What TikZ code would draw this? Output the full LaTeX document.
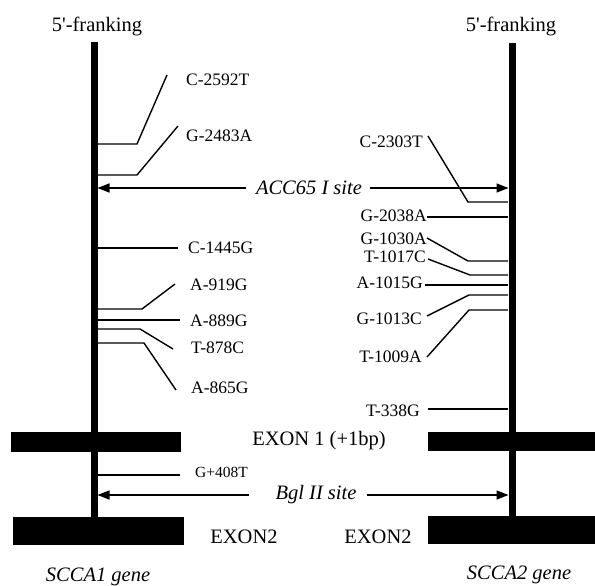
\documentclass[tikz,border=0pt]{standalone}
\usepackage{fontspec}
\setmainfont{Liberation Serif}
\usetikzlibrary{arrows.meta}
\begin{document}
\begin{tikzpicture}[x=1pt,y=-1pt,
  genebar/.style={line width=7pt},
  exonbox/.style={fill=black},
  lead/.style={line width=1.4pt},
  mut/.style={inner sep=0pt, font=\fontsize{17.5}{20}\selectfont},
  smallmut/.style={inner sep=0pt, font=\fontsize{15.5}{18}\selectfont},
  big/.style={inner sep=0pt, font=\fontsize{20.5}{24}\selectfont},
  bigit/.style={inner sep=0pt, font=\fontsize{20.5}{24}\selectfont\itshape},
  site/.style={line width=1.4pt, -{Triangle[length=12pt,width=9pt]}},
]
\useasboundingbox (0,0) rectangle (595,586);

% gene bars
\coordinate (Ltop) at (94,42);
\coordinate (Lbot) at (94,518);
\coordinate (Rtop) at (512,43);
\coordinate (Rbot) at (512,517);
\draw[genebar] (Ltop) -- (Lbot);
\draw[genebar] (Rtop) -- (Rbot);

% exons
\fill[exonbox] (11,432) rectangle (181,452);
\fill[exonbox] (428,432) rectangle (595,451);
\fill[exonbox] (13,517) rectangle (184,545);
\fill[exonbox] (428,516) rectangle (595,544);

% headings
\node[big, anchor=base] (fl) at (97,32) {5\textquotesingle-franking};
\node[big, anchor=base] (fr) at (511,32) {5\textquotesingle-franking};

% left mutations
\node[mut, anchor=west] (m1) at (186,80) {C-2592T};
\node[mut, anchor=west] (m2) at (186,136) {G-2483A};
\node[mut, anchor=west] (m3) at (188,248) {C-1445G};
\node[mut, anchor=west] (m4) at (190,285) {A-919G};
\node[mut, anchor=west] (m5) at (190,321) {A-889G};
\node[mut, anchor=west] (m6) at (191,348) {T-878C};
\node[mut, anchor=west] (m7) at (191,388) {A-865G};
\coordinate (b1) at (97,144);
\coordinate (b2) at (97,175);
\coordinate (b3) at (97,248);
\coordinate (b4) at (97,309);
\coordinate (b5) at (97,320);
\coordinate (b6) at (97,329);
\coordinate (b7) at (97,343);
\draw[lead] (b1) -- (137,144) -- ([xshift=-19pt,yshift=5pt]m1.west);
\draw[lead] (b2) -- (137,175) -- ([xshift=-8pt,yshift=10pt]m2.west);
\draw[lead] (b3) -- ([xshift=-10pt]m3.west |- b3);
\draw[lead] (b4) -- (142,309) -- ([xshift=-15pt,yshift=1pt]m4.west);
\draw[lead] (b5) -- ([xshift=-10pt]m5.west |- b5);
\draw[lead] (b6) -- (140,329) -- ([xshift=-18pt,yshift=-1pt]m6.west);
\draw[lead] (b7) -- (144,343) -- ([xshift=-15pt,yshift=-2pt]m7.west);

% right mutations
\node[mut, anchor=east] (n1) at (423,142) {C-2303T};
\node[mut, anchor=east] (n2) at (427,216) {G-2038A};
\node[mut, anchor=east] (n3) at (427,239) {G-1030A};
\node[mut, anchor=east] (n4) at (426,257) {T-1017C};
\node[mut, anchor=east] (n5) at (423,283) {A-1015G};
\node[mut, anchor=east] (n6) at (422,319) {G-1013C};
\node[mut, anchor=east] (n7) at (422,357) {T-1009A};
\node[mut, anchor=east] (n8) at (420,411) {T-338G};
\coordinate (c1) at (508,202);
\coordinate (c2) at (508,217);
\coordinate (c3) at (508,261);
\coordinate (c4) at (508,275);
\coordinate (c5) at (508,285);
\coordinate (c6) at (508,295);
\coordinate (c7) at (508,310);
\coordinate (c8) at (508,409);
\draw[lead] ([xshift=5pt,yshift=6pt]n1.east) -- (468,202) -- (c1);
\draw[lead] (n2.east |- c2) -- (c2);
\draw[lead] ([yshift=1pt]n3.east) -- (468,261) -- (c3);
\draw[lead] ([xshift=2pt,yshift=-2pt]n4.east) -- (470,275) -- (c4);
\draw[lead] ([xshift=2pt]n5.east |- c5) -- (c5);
\draw[lead] ([xshift=5pt,yshift=3pt]n6.east) -- (469,295) -- (c6);
\draw[lead] ([xshift=5pt]n7.east) -- (469,310) -- (c7);
\draw[lead] ([xshift=8pt]n8.east |- c8) -- (c8);

% restriction sites
\node[bigit] (acc) at (309,188) {ACC65 I site};
\coordinate (accL) at (97.5,188);
\coordinate (accR) at (508.5,188);
\draw[site] ([xshift=-10pt]acc.west) -- (accL);
\draw[site] ([xshift=8pt]acc.east) -- (accR);

\node[bigit] (bgl) at (316,495) {Bgl II site};
\coordinate (bglL) at (97.5,495);
\coordinate (bglR) at (508.5,495);
\draw[site] ([xshift=-26pt]bgl.west) -- (bglL);
\draw[site] ([xshift=10pt]bgl.east) -- (bglR);

% exon 2 mutation
\coordinate (g1) at (97,475);
\node[smallmut, anchor=west] (g408) at (195,472) {G+408T};
\draw[lead] (g1) -- (180,475);

% exon labels
\node[big] (ex1) at (319,441) {EXON 1 (+1bp)};
\node[big] (ex2l) at (244,537) {EXON2};
\node[big] (ex2r) at (378,537) {EXON2};

% gene names
\node[bigit, anchor=base] (g1name) at (98,581) {SCCA1 gene};
\node[bigit, anchor=base] (g2name) at (519,579) {SCCA2 gene};
\end{tikzpicture}
\end{document}
